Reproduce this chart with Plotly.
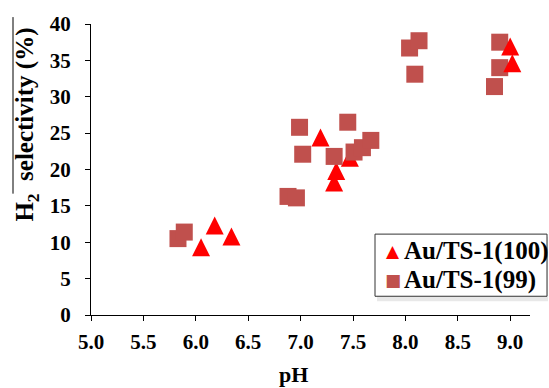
import numpy as np
import plotly.graph_objects as go

# H2 selectivity (%) versus pH for the two catalysts
ph_100 = [6.05, 6.18, 6.34, 7.19, 7.32, 7.34, 7.47, 9.00, 9.02]
sel_100 = [9.3, 12.3, 10.8, 24.4, 18.2, 19.8, 21.6, 36.9, 34.6]

ph_99 = [5.83, 5.89, 6.88, 6.96, 6.99, 7.02, 7.32, 7.45, 7.51, 7.59, 7.67,
         8.04, 8.13, 8.09, 8.85, 8.90, 8.90]
sel_99 = [10.5, 11.4, 16.3, 16.1, 25.8, 22.1, 21.8, 26.5, 22.4, 23.0, 24.0,
          36.7, 37.7, 33.1, 31.4, 34.0, 37.5]

x_ticks = [5.0, 5.5, 6.0, 6.5, 7.0, 7.5, 8.0, 8.5, 9.0]
y_ticks = [0, 5, 10, 15, 20, 25, 30, 35, 40]

names = ["Au/TS-1(100)", "Au/TS-1(99)"]

FONT = "Liberation Serif"
W, H = 549, 388
L, R, T, B = 91, 19, 20, 73
PW, PH = W - L - R, H - T - B


def px_x(p):
    return (p - L) / PW


def px_y(p):
    return (H - B - p) / PH


RED = "#FF0000"
BRICK = "#C0504D"
# equal width/height triangle, centred on the point
tri = dict(symbol="arrow-down", angle=180, standoff=9, size=18, color=RED,
           line=dict(width=0))
sq = dict(symbol="square", size=17, color=BRICK, line=dict(width=0))

ph_100a = np.array(ph_100)
sel_100a = np.array(sel_100)
low = ph_100a < 8

fig = go.Figure()
fig.add_trace(go.Scatter(x=ph_100a[low], y=sel_100a[low], mode="markers",
                         marker=tri, name=names[0], showlegend=False))
fig.add_trace(go.Scatter(x=ph_99, y=sel_99, mode="markers", marker=sq,
                         name=names[1], showlegend=False))
fig.add_trace(go.Scatter(x=ph_100a[~low], y=sel_100a[~low], mode="markers",
                         marker=tri, name=names[0], showlegend=False))

axis_common = dict(showline=True, linecolor="black", linewidth=1,
                   ticks="outside", ticklen=5, tickcolor="black", tickwidth=1,
                   showgrid=False, zeroline=False, mirror=False,
                   tickfont=dict(family=FONT, size=21, color="black",
                                 weight="bold"))

fig.update_xaxes(range=[5.0, 5.0 + PW / 104.8], tickvals=x_ticks,
                 ticktext=[f"{v:.1f}" for v in x_ticks], ticklabelstandoff=3,
                 **axis_common)
fig.update_yaxes(range=[0, 40], tickvals=y_ticks,
                 ticktext=[str(v) for v in y_ticks], ticklabelstandoff=10,
                 **axis_common)

# legend frame with soft shadow
lx0, lx1, ly0, ly1 = 375, 547, 233, 296
shapes = [
    dict(type="rect", xref="paper", yref="paper", layer="below",
         x0=px_x(lx0 + 2), x1=px_x(lx1 + 1), y0=px_y(ly0 + 3), y1=px_y(ly1 + 5),
         fillcolor="rgba(0,0,0,0.09)", line=dict(width=0)),
    dict(type="rect", xref="paper", yref="paper", layer="below",
         x0=px_x(lx0), x1=px_x(lx1), y0=px_y(ly0), y1=px_y(ly1),
         fillcolor="white", line=dict(color="#333333", width=1)),
    dict(type="line", xref="paper", yref="paper",
         x0=px_x(13), x1=px_x(13), y0=px_y(13), y1=px_y(192),
         line=dict(color="black", width=1)),
]

annotations = [
    dict(text="H<sub>2</sub>  selectivity (%)", xref="paper", yref="paper",
         x=px_x(27), y=px_y(122), textangle=-90, showarrow=False,
         xanchor="center", yanchor="middle",
         font=dict(family=FONT, size=25, color="black", weight="bold")),
    dict(text="pH", xref="paper", yref="paper", x=px_x(293), y=px_y(375),
         showarrow=False, xanchor="center", yanchor="middle",
         font=dict(family=FONT, size=22, color="black", weight="bold")),
]

# legend entries: symbol + label
legend_rows = [(250, "\u25B2", RED, names[0]), (280, "\u25A0", BRICK, names[1])]
for yc, sym, col, label in legend_rows:
    annotations.append(dict(text=sym, xref="paper", yref="paper",
                            x=px_x(393), y=px_y(yc), showarrow=False,
                            xanchor="center", yanchor="middle",
                            font=dict(family="DejaVu Sans", size=17, color=col)))
    annotations.append(dict(text=label, xref="paper", yref="paper",
                            x=px_x(402), y=px_y(yc), showarrow=False,
                            xanchor="left", yanchor="middle",
                            font=dict(family=FONT, size=25, color="black",
                                      weight="bold")))

fig.update_layout(
    width=W, height=H,
    margin=dict(l=L, r=R, t=T, b=B, pad=0),
    plot_bgcolor="white", paper_bgcolor="white",
    shapes=shapes, annotations=annotations,
    showlegend=False,
)

fig.write_html("out.html")
